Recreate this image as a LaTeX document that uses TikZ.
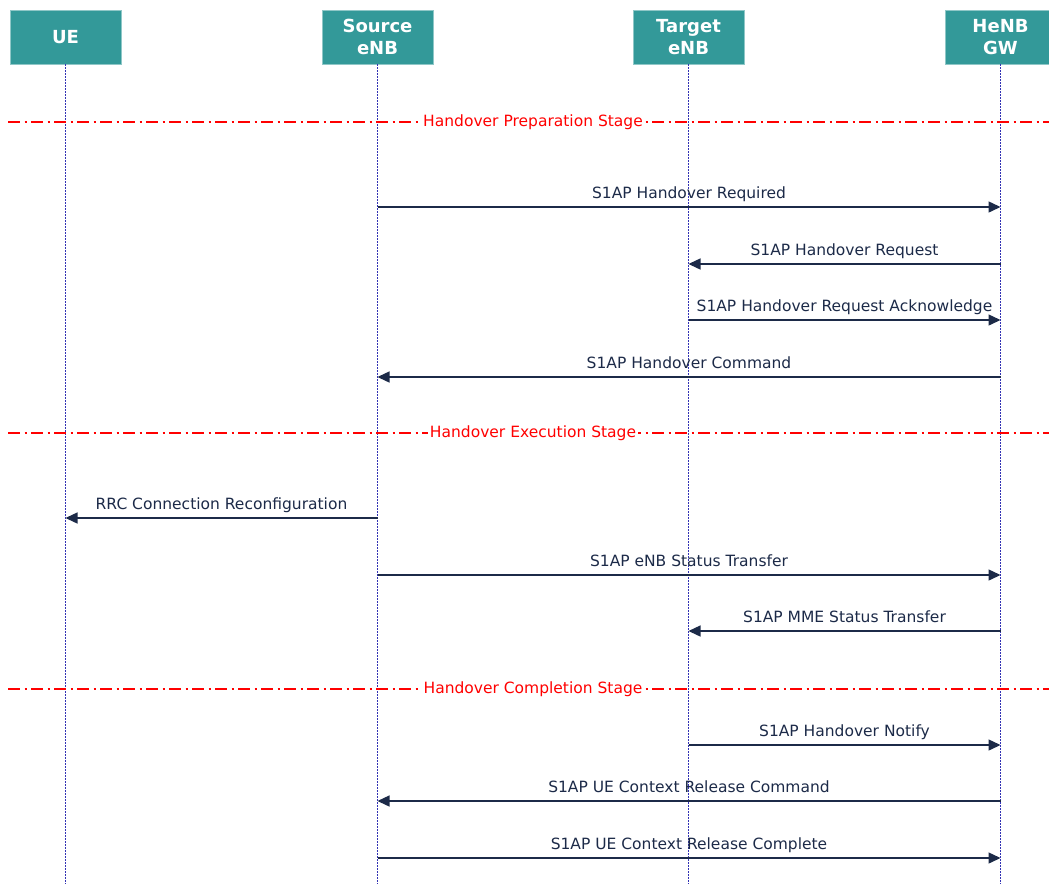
\documentclass[tikz,border=0pt]{standalone}
\usepackage{fontspec}
\setmainfont{DejaVu Sans}
\usetikzlibrary{arrows.meta}
\definecolor{boxteal}{RGB}{51,153,153}
\definecolor{msgnavy}{RGB}{28,42,72}
\definecolor{lifeblue}{RGB}{50,50,180}

% one signalling message between two lifelines at height #3
\newcommand\sigmsg[4]{%
  \draw[msgarrow] (#1 |- 0,#3) -- node[msglabel]{#4} (#2 |- 0,#3);}

\begin{document}
\begin{tikzpicture}[x=1pt,y=-1pt,
  entity/.style={fill=boxteal, draw=boxteal!55!white, line width=0.8pt,
    minimum width=111pt, minimum height=54pt, inner sep=0pt, text=white,
    font=\fontsize{18}{22.5}\selectfont\bfseries, align=center},
  lifeline/.style={draw=lifeblue, line width=1.2pt, dash pattern=on 1.2pt off 1.8pt},
  msgarrow/.style={draw=msgnavy, line width=1.4pt,
    -{Triangle[length=12pt,width=11pt]}},
  msglabel/.style={text=msgnavy, font=\fontsize{15.5}{18}\selectfont,
    inner sep=0pt, anchor=base, yshift=8.5pt},
  stageline/.style={draw=red, line width=1.3pt,
    dash pattern=on 12pt off 4.5pt on 2pt off 4.5pt},
  stagelabel/.style={text=red, fill=white, font=\fontsize{15.5}{18}\selectfont,
    inner xsep=2pt, inner ysep=2pt}
]
\useasboundingbox (0,0) rectangle (1049,884);
\clip (0,0) rectangle (1049,884);

% participants
\node[entity] (ue)  at (65.5,37)   {UE};
\node[entity] (src) at (377.5,37)  {Source\\eNB};
\node[entity] (tgt) at (688.5,37)  {Target\\eNB};
\node[entity] (gw)  at (1000.5,37) {HeNB\\GW};

% lifelines
\foreach \p in {ue,src,tgt,gw}{
  \coordinate (\p-end) at (\p |- 0,884);
  \draw[lifeline] (\p.south) -- (\p-end);
}

% stage separators
\draw[stageline] (8,122) -- (1049,122);
\node[stagelabel] (prep) at (533,122) {Handover Preparation Stage};
\draw[stageline] (8,433) -- (1049,433);
\node[stagelabel] (exec) at (533,433) {Handover Execution Stage};
\draw[stageline] (8,689) -- (1049,689);
\node[stagelabel] (compl) at (533,689) {Handover Completion Stage};

% messages
\sigmsg{src}{gw}{207}{S1AP Handover Required}
\sigmsg{gw}{tgt}{264}{S1AP Handover Request}
\sigmsg{tgt}{gw}{320}{S1AP Handover Request Acknowledge}
\sigmsg{gw}{src}{377}{S1AP Handover Command}
\sigmsg{src}{ue}{518}{RRC Connection Reconfiguration}
\sigmsg{src}{gw}{575}{S1AP eNB Status Transfer}
\sigmsg{gw}{tgt}{631}{S1AP MME Status Transfer}
\sigmsg{tgt}{gw}{745}{S1AP Handover Notify}
\sigmsg{gw}{src}{801}{S1AP UE Context Release Command}
\sigmsg{src}{gw}{858}{S1AP UE Context Release Complete}
\end{tikzpicture}
\end{document}
